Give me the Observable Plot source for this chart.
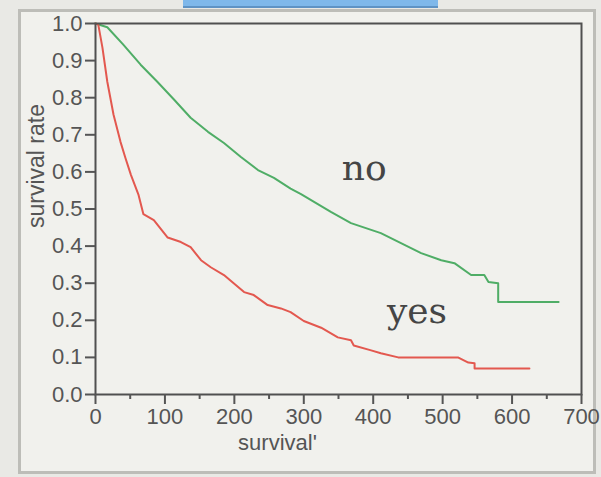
<!DOCTYPE html>
<html><head><meta charset="utf-8">
<script src="https://cdn.jsdelivr.net/npm/d3@7"></script>
<script src="https://cdn.jsdelivr.net/npm/@observablehq/plot@0.6"></script>
<style>
html,body{margin:0;padding:0;background:#e9e9e5;width:601px;height:477px;overflow:hidden}
#wrap{position:relative;width:601px;height:477px}
.panel{position:absolute;left:18px;top:9px;width:572px;height:459px;border:3px solid #bdbdb8;background:#f1f1ed}
.tab{position:absolute;left:183px;top:0;width:255px;height:6px;background:#7fb8ea;border-bottom:2px solid #5f93c4}
#chart{position:absolute;left:0;top:0}
</style></head>
<body><div id="wrap"><div class="tab"></div><div class="panel"></div><div id="chart"></div></div>
<script>
// "no" group
const noTime = [0,17,40,65,89,113,137,162,185,209,234,257,281,296,339,368,411,440,469,498,517,541,560,566,580,580,667];
const noRate = [1.0,0.99,0.943,0.889,0.843,0.795,0.746,0.708,0.678,0.641,0.605,0.584,0.555,0.540,0.492,0.462,0.435,0.408,0.381,0.362,0.354,0.322,0.322,0.303,0.300,0.249,0.249];
// "yes" group
const yesTime = [0,4,10,17,26,36,43,51,62,69,84,104,123,137,152,166,185,199,214,228,248,267,281,300,325,349,368,372,397,411,436,522,537,546,546,625];
const yesRate = [1.0,0.997,0.935,0.843,0.754,0.681,0.638,0.592,0.538,0.486,0.470,0.423,0.411,0.397,0.362,0.343,0.322,0.300,0.276,0.268,0.241,0.232,0.222,0.198,0.180,0.154,0.146,0.132,0.119,0.111,0.100,0.100,0.086,0.084,0.070,0.070];

const groups = ["no", "yes"];
const groupColors = ["#4fad66", "#e3584f"];
const labelTime = [387, 463];
const labelRate = [0.61, 0.223];

const xTicks = [0,100,200,300,400,500,600,700];
const xMinorTicks = [50,150,250,350,450,550,650];
const yTicks = [0,0.1,0.2,0.3,0.4,0.5,0.6,0.7,0.8,0.9,1.0];
const xTitle = "survival'";
const yTitle = "survival rate";

const rows = [
  ...noTime.map((t, i) => ({group: "no", time: t, rate: noRate[i]})),
  ...yesTime.map((t, i) => ({group: "yes", time: t, rate: yesRate[i]}))
];
const labels = groups.map((g, i) => ({group: g, time: labelTime[i], rate: labelRate[i]}));

const chart = Plot.plot({
  width: 601,
  height: 477,
  marginLeft: 95,
  marginRight: 20,
  marginTop: 23,
  marginBottom: 83,
  style: {background: "transparent", fontFamily: "Liberation Sans, Arial, sans-serif", fontSize: "22px", color: "#555"},
  x: {domain: [0, 700]},
  y: {domain: [0, 1]},
  color: {domain: groups, range: groupColors},
  marks: [
    Plot.line(rows, {x: "time", y: "rate", z: "group", stroke: "group", strokeWidth: 2}),
    Plot.frame({stroke: "#505050", strokeWidth: 2}),
    Plot.axisY(yTicks, {tickSize: 10, tickPadding: 3, strokeWidth: 2, tickFormat: d3.format(".1f"), fontSize: 22, fill: "#555", label: null}),
    Plot.axisX(xTicks, {tickSize: 10, tickPadding: 4, strokeWidth: 2, tickFormat: d => String(d), fontSize: 22, fill: "#555", label: null}),
    Plot.axisX(xMinorTicks, {tickSize: 5, strokeWidth: 2, tickFormat: () => "", label: null}),
    Plot.text([xTitle], {text: d => d, frameAnchor: "bottom", dx: -61, dy: 55, fontSize: 22, fill: "#555"}),
    Plot.text([yTitle], {text: d => d, frameAnchor: "left", rotate: -90, dx: -59, dy: 19, fontSize: 23, fill: "#555"}),
    Plot.text(labels, {x: "time", y: "rate", text: "group", fontSize: 36, fontFamily: "DejaVu Serif, serif", fill: "#454545"})
  ]
});
document.getElementById("chart").appendChild(chart);
</script>
</body></html>
